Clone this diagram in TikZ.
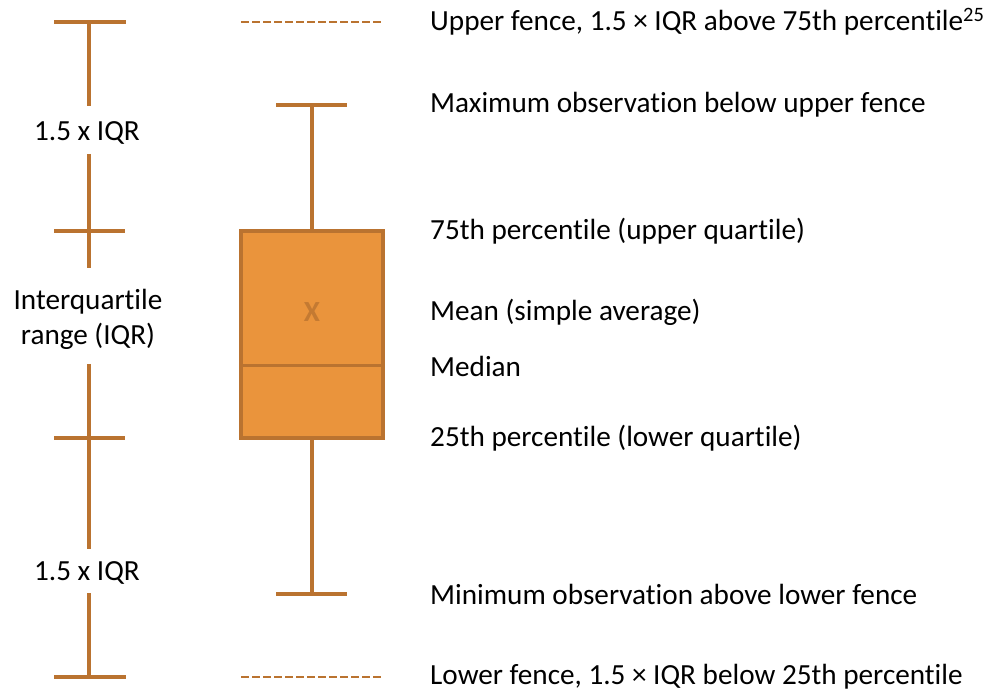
\documentclass[tikz,border=0pt]{standalone}
\usepackage{fontspec}
\setmainfont{Carlito}[RawFeature={-liga;-calt;-dlig}]
\definecolor{linebrown}{RGB}{186,115,48}
\definecolor{boxfill}{RGB}{234,148,60}
\definecolor{xcol}{RGB}{196,122,50}
\begin{document}
\begin{tikzpicture}[x=1pt,y=-1pt,
  lbl/.style={anchor=west,inner sep=0pt,font=\fontsize{29.2}{35}\selectfont},
  side/.style={align=center,inner sep=0pt,font=\fontsize{29.2}{35}\selectfont},
  solidln/.style={draw=linebrown,line width=3.2pt},
  fenceln/.style={draw=linebrown,line width=2pt,dash pattern=on 8pt off 3pt},
  boxst/.style={draw=linebrown,fill=boxfill,line width=3.2pt}]
\useasboundingbox (0,0) rectangle (989,695);
% left scale
\coordinate (lt) at (89,22);
\coordinate (lq3) at (89,231);
\coordinate (lq1) at (89,438);
\coordinate (lb) at (89,677);
\coordinate (g1a) at (89,106);
\coordinate (g1b) at (89,154);
\coordinate (g2a) at (89,268);
\coordinate (g2b) at (89,364);
\coordinate (g3a) at (89,549);
\coordinate (g3b) at (89,593);
\draw[solidln] (54,22) -- (126,22);
\draw[solidln] (54,231) -- (125,231);
\draw[solidln] (54,438) -- (125,438);
\draw[solidln] (54,677) -- (126,677);
\draw[solidln] (lt) -- (g1a);
\draw[solidln] (g1b) -- (g2a);
\draw[solidln] (g2b) -- (g3a);
\draw[solidln] (g3b) -- (lb);
\node[side] (s1) at (87,133) {1.5 x IQR};
\node[side] (s2) at (88,319) {Interquartile\\range (IQR)};
\node[side] (s3) at (87,573) {1.5 x IQR};
% fences
\coordinate (uf1) at (241,22);
\coordinate (uf2) at (383,22);
\coordinate (lf1) at (241,677);
\coordinate (lf2) at (383,677);
\draw[fenceln] (uf1) -- (uf2);
\draw[fenceln] (lf1) -- (lf2);
% box plot
\coordinate (wt) at (312,105);
\coordinate (wb) at (312,594);
\draw[solidln] (276,105) -- (347,105);
\draw[solidln] (276,594) -- (347,594);
\node[boxst,minimum width=142pt,minimum height=207pt,inner sep=0pt] (box) at (312,334.5) {};
\draw[solidln] (wt) -- (box.north);
\draw[solidln] (box.south) -- (wb);
\draw[draw=linebrown,line width=3pt] (box.west |- 0,366) -- (box.east |- 0,366);
\node[inner sep=0pt,text=xcol,font=\fontsize{29.2}{35}\selectfont\bfseries] (mx) at (312,312) {X};
% labels
\node[lbl] (t1) at (430,22) {Upper fence, 1.5 × IQR above 75th percentile\textsuperscript{25}};
\node[lbl] (t2) at (430,105) {Maximum observation below upper fence};
\node[lbl] (t3) at (430,231) {75th percentile (upper quartile)};
\node[lbl] (t4) at (430,312) {Mean (simple average)};
\node[lbl] (t5) at (430,366) {Median};
\node[lbl] (t6) at (430,438) {25th percentile (lower quartile)};
\node[lbl] (t7) at (430,594) {Minimum observation above lower fence};
\node[lbl] (t8) at (430,677) {Lower fence, 1.5 × IQR below 25th percentile};
\end{tikzpicture}
\end{document}
